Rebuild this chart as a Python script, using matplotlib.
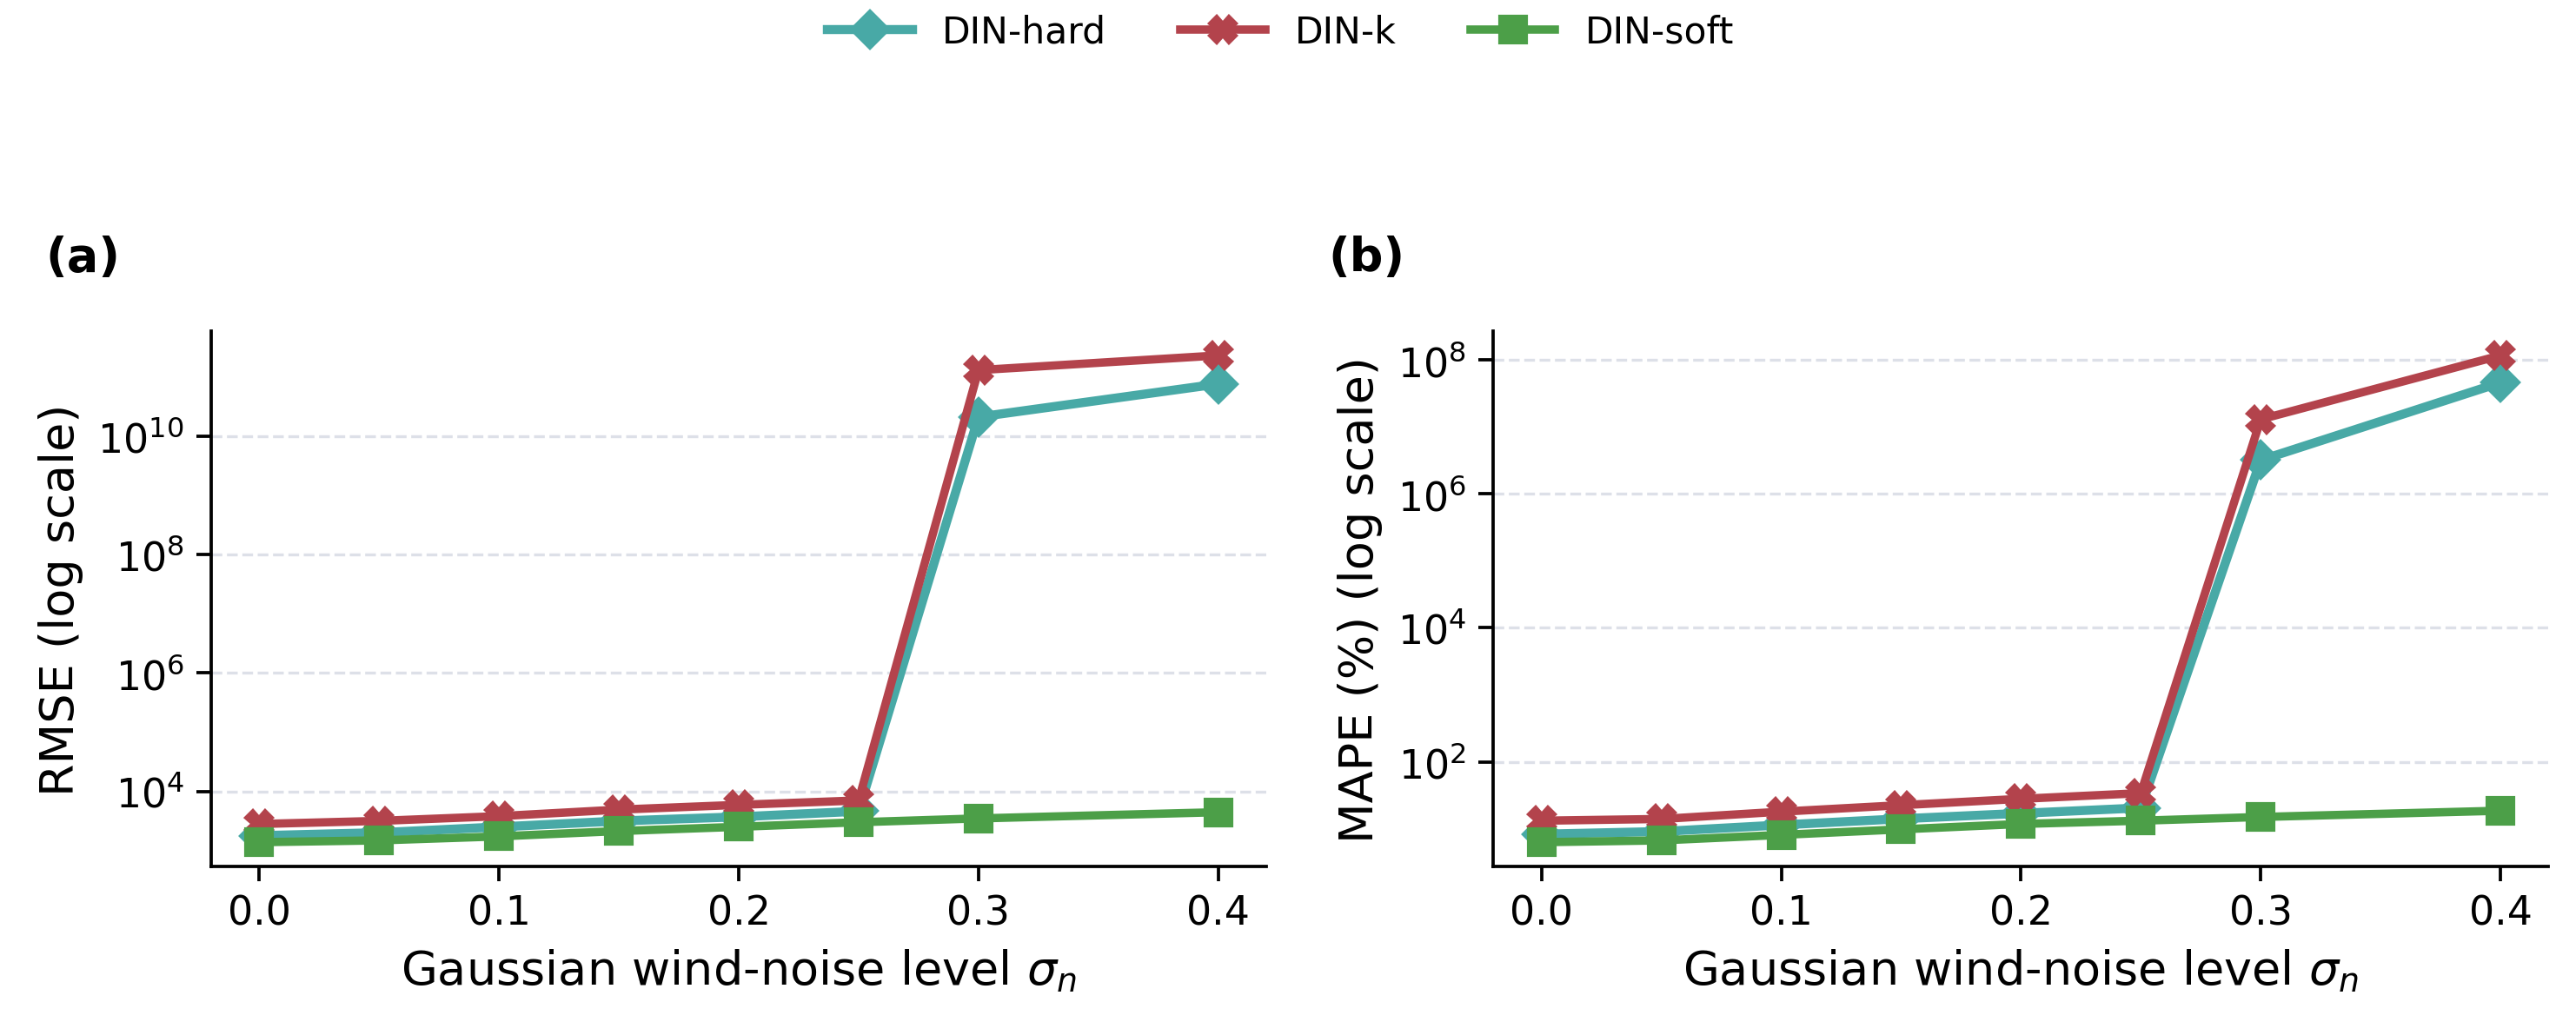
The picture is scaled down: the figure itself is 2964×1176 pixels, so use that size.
import matplotlib
matplotlib.use("Agg")
import matplotlib.pyplot as plt
import numpy as np

noise = [0.0, 0.05, 0.1, 0.15, 0.2, 0.25, 0.3, 0.4]

rmse_hard = [1780, 2000, 2500, 3150, 3700, 4600, 2.1e10, 7.6e10]
rmse_k = [2800, 3160, 3800, 4900, 5900, 7000, 1.3e11, 2.3e11]
rmse_soft = [1380, 1480, 1730, 2130, 2510, 3000, 3480, 4430]

mape_hard = [8.3, 9.1, 11.4, 14.1, 17.0, 20.5, 3.2e6, 4.6e7]
mape_k = [13.2, 14.0, 18.0, 22.5, 28.0, 34.0, 1.3e7, 1.17e8]
mape_soft = [6.3, 6.7, 8.1, 9.8, 11.8, 13.2, 15.0, 18.6]

names = ["DIN-hard", "DIN-k", "DIN-soft"]
colors = ["#48A9A6", "#B3434C", "#4C9F48"]
markers = ["D", "X", "s"]
widths = [2.5, 2.3, 2.3]

fig, axes = plt.subplots(1, 2, figsize=(9.883, 3.923), dpi=300)
plt.subplots_adjust(left=0.082, right=0.989, bottom=0.152, top=0.6755, wspace=0.2155)

panels = [
    (axes[0], [rmse_hard, rmse_k, rmse_soft], "RMSE (log scale)", "(a)", [1e4, 1e6, 1e8, 1e10]),
    (axes[1], [mape_hard, mape_k, mape_soft], "MAPE (%) (log scale)", "(b)", [1e2, 1e4, 1e6, 1e8]),
]

for ax, series, ylab, tag, ticks in panels:
    for vals, nm, c, m, w in zip(series, names, colors, markers, widths):
        ax.plot(noise, vals, color=c, marker=m, lw=w, ms=7, label=nm)
    ax.set_yscale("log")
    ax.set_yticks(ticks)
    ax.minorticks_off()
    ax.yaxis.grid(True, ls="--", color="#dde0e8", lw=0.8)
    ax.set_axisbelow(True)
    ax.set_xticks([0.0, 0.1, 0.2, 0.3, 0.4])
    ax.set_xlabel(r"Gaussian wind-noise level $\sigma_n$", fontsize=13)
    ax.set_ylabel(ylab, fontsize=13)
    ax.tick_params(labelsize=11, width=0.9, length=4)
    for s in ["top", "right"]:
        ax.spines[s].set_visible(False)
    for s in ["left", "bottom"]:
        ax.spines[s].set_linewidth(0.9)
    ax.text(-0.157, 1.18, tag, transform=ax.transAxes, fontsize=13, fontweight="bold", va="top")

handles, labels = axes[0].get_legend_handles_labels()
fig.legend(handles, labels, loc="center", ncol=3, frameon=False, fontsize=10.2,
           bbox_to_anchor=(0.497, 0.968), columnspacing=2.0, handlelength=2.3)

fig.savefig("out.png", dpi=300)
